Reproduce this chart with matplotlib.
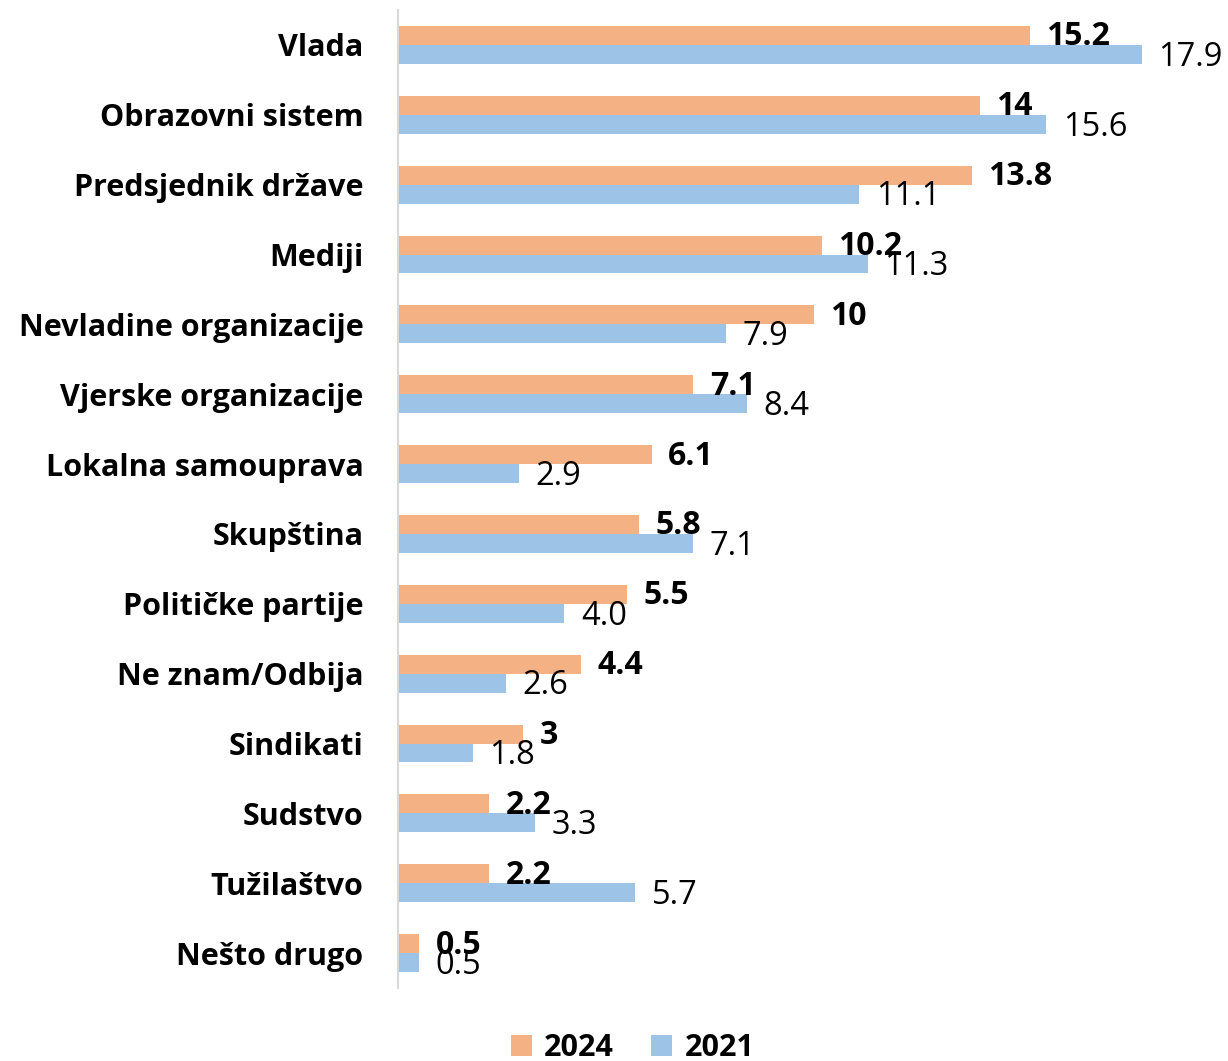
import matplotlib.pyplot as plt
import numpy as np

plt.rcParams['font.family'] = ['Open Sans', 'DejaVu Sans']

categories = ['Vlada', 'Obrazovni sistem', 'Predsjednik države', 'Mediji',
              'Nevladine organizacije', 'Vjerske organizacije', 'Lokalna samouprava',
              'Skupština', 'Političke partije', 'Ne znam/Odbija', 'Sindikati',
              'Sudstvo', 'Tužilaštvo', 'Nešto drugo']
values_2024 = [15.2, 14, 13.8, 10.2, 10, 7.1, 6.1, 5.8, 5.5, 4.4, 3, 2.2, 2.2, 0.5]
values_2021 = [17.9, 15.6, 11.1, 11.3, 7.9, 8.4, 2.9, 7.1, 4.0, 2.6, 1.8, 3.3, 5.7, 0.5]
labels_2024 = ['15.2', '14', '13.8', '10.2', '10', '7.1', '6.1', '5.8', '5.5', '4.4',
               '3', '2.2', '2.2', '0.5']
labels_2021 = ['17.9', '15.6', '11.1', '11.3', '7.9', '8.4', '2.9', '7.1', '4.0', '2.6',
               '1.8', '3.3', '5.7', '0.5']

c24 = '#F4B183'
c21 = '#9DC3E6'

fig = plt.figure(figsize=(12.28, 10.61), dpi=100)
ax = fig.add_axes([398 / 1228, 1 - 988 / 1061, 830 / 1228, 978 / 1061])

y = np.arange(len(categories))
h = 0.27
ax.barh(y - h / 2, values_2024, height=h, color=c24, label='2024')
ax.barh(y + h / 2, values_2021, height=h, color=c21, label='2021')

for yi, v, t in zip(y, values_2024, labels_2024):
    ax.text(v + 0.4, yi - h / 2 + 0.02, t, va='center', ha='left', fontsize=23,
            fontweight='bold', color='black')
for yi, v, t in zip(y, values_2021, labels_2021):
    ax.text(v + 0.4, yi + h / 2 + 0.04, t, va='center', ha='left', fontsize=23.5,
            color='black')

ax.set_xlim(0, 830 / 41.56)
ax.set_ylim(len(categories) - 0.5, -0.5)
ax.set_yticks(y)
ax.set_yticklabels(categories, fontsize=22, fontweight='bold')
ax.tick_params(axis='y', length=0, pad=25)
ax.set_xticks([])
for s in ['top', 'right', 'bottom']:
    ax.spines[s].set_visible(False)
ax.spines['left'].set_color('#D9D9D9')
ax.spines['left'].set_linewidth(1.5)

fig.legend(loc='lower center', bbox_to_anchor=(0.515, -0.028), ncol=2, frameon=False,
           prop={'size': 22, 'weight': 'bold'}, handlelength=0.7, handleheight=0.7,
           handletextpad=0.4, columnspacing=1.2)

fig.savefig('out.png', dpi=100)
